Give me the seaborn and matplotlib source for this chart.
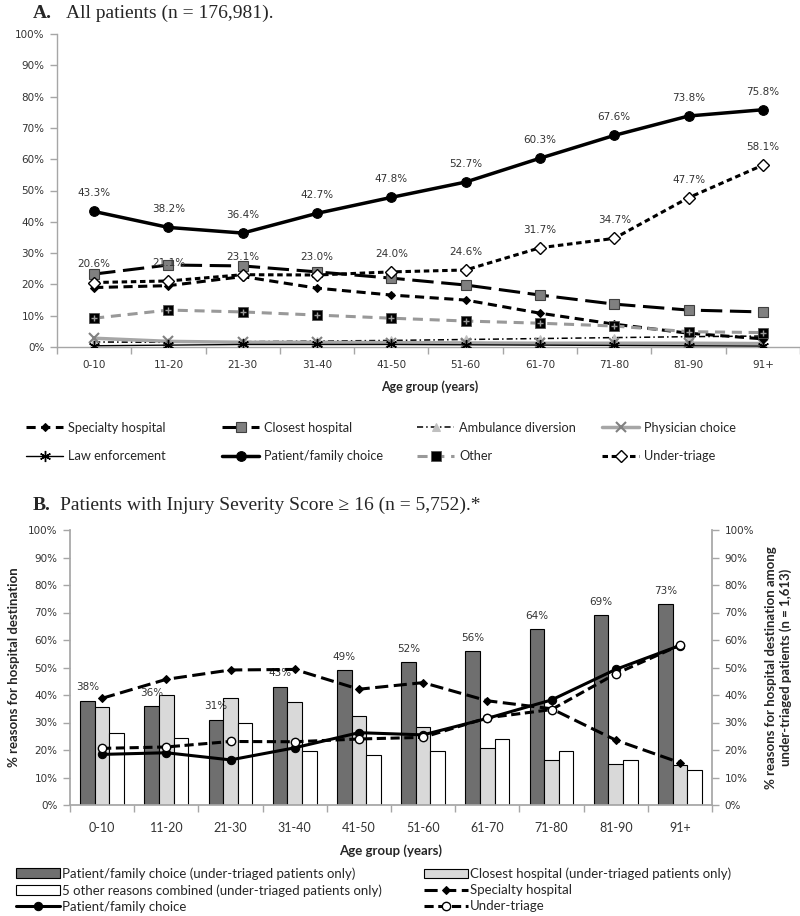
import numpy as np
import pandas as pd
import matplotlib
matplotlib.use("Agg")
import matplotlib.pyplot as plt
import seaborn as sns
from matplotlib.patches import Rectangle

ages = ['0-10', '11-20', '21-30', '31-40', '41-50', '51-60', '61-70', '71-80', '81-90', '91+']

# Panel A: all patients (%)
a_specialty = [19.0, 19.6, 22.5, 18.8, 16.6, 15.0, 10.8, 7.3, 4.4, 2.6]
a_closest = [23.3, 26.2, 25.9, 24.0, 22.0, 19.8, 16.6, 13.7, 11.8, 11.2]
a_ambulance = [1.6, 1.5, 1.7, 1.9, 2.1, 2.4, 2.7, 3.0, 3.3, 3.5]
a_physician = [2.8, 1.8, 1.5, 1.5, 1.4, 1.3, 1.2, 1.2, 1.2, 1.1]
a_law = [0.4, 0.6, 0.8, 0.8, 0.8, 0.7, 0.6, 0.5, 0.4, 0.3]
a_patient = [43.3, 38.2, 36.4, 42.7, 47.8, 52.7, 60.3, 67.6, 73.8, 75.8]
a_other = [9.2, 11.8, 11.2, 10.2, 9.2, 8.3, 7.6, 6.7, 4.9, 4.6]
a_undertriage = [20.6, 21.1, 23.1, 23.0, 24.0, 24.6, 31.7, 34.7, 47.7, 58.1]

# Panel B: ISS >= 16, bars (under-triaged patients only)
b_bar_patient = [38, 36, 31, 43, 49, 52, 56, 64, 69, 73]
b_bar_closest = [35.7, 40.0, 38.9, 37.6, 32.4, 28.2, 20.6, 16.4, 14.8, 14.5]
b_bar_other5 = [26.1, 24.2, 29.9, 19.8, 18.1, 19.6, 23.9, 19.6, 16.4, 12.7]
# Panel B lines
b_specialty = [38.8, 45.7, 49.1, 49.3, 42.1, 44.5, 37.9, 35.0, 23.6, 15.4]
b_patient = [18.4, 19.0, 16.4, 20.8, 26.3, 25.5, 31.5, 38.2, 49.3, 58.0]
b_undertriage = [20.6, 21.1, 23.1, 23.0, 24.0, 24.6, 31.7, 34.7, 47.7, 58.1]

bar_names = ['Patient/family choice (under-triaged patients only)',
             'Closest hospital (under-triaged patients only)',
             '5 other reasons combined (under-triaged patients only)']

sns.set_theme(style="white")
plt.rcParams['font.family'] = ['Lato', 'DejaVu Sans']

W, H = 800, 916
fig = plt.figure(figsize=(W / 100, H / 100), dpi=100)


def box(l, t, r, b):
    return [l / W, 1 - b / H, (r - l) / W, (b - t) / H]


SPINE = '#a6a6a6'
TXT = '#333333'
SERIF = ['Liberation Serif', 'DejaVu Serif']
xpos = np.arange(len(ages))


def style_cat_x(ax, size, family, pad):
    ax.set_xticks(xpos)
    ax.set_xticklabels(ages, fontsize=size, color=TXT, family=family)
    ax.set_xticks(np.arange(-0.5, len(ages)), minor=True)
    ax.tick_params(axis='x', which='major', bottom=True, length=0, pad=pad)
    ax.tick_params(axis='x', which='minor', bottom=True, length=5, color=SPINE, width=1)


# ---------------- Panel A ----------------
axA = fig.add_axes(box(57, 34, 800, 347))

specsA = [
    ('Specialty hospital', a_specialty,
     dict(color='black', lw=2.2, linestyle=(0, (3, 1.8)), marker='D', ms=4.5, mfc='black', mec='black', zorder=4)),
    ('Closest hospital', a_closest,
     dict(color='black', lw=2.2, linestyle=(0, (7, 2.5)), marker='s', ms=6.5, mfc='#808080', mec='#404040', mew=0.8, zorder=4)),
    ('Ambulance diversion', a_ambulance,
     dict(color='black', lw=1.1, linestyle=(0, (4, 2, 1, 2)), marker='^', ms=6, mfc='#c0c0c0', mec='#c0c0c0', zorder=3)),
    ('Physician choice', a_physician,
     dict(color='#a6a6a6', lw=2.5, linestyle='-', marker='x', ms=7, mec='#808080', mew=1.5, zorder=3)),
    ('Law enforcement', a_law,
     dict(color='black', lw=1.0, linestyle='-', marker=(6, 2, 0), ms=8, mec='black', mew=1.0, zorder=3)),
    ('Patient/family choice', a_patient,
     dict(color='black', lw=2.5, linestyle='-', marker='o', ms=7, mfc='black', mec='black', zorder=6)),
    ('Other', a_other,
     dict(color='#999999', lw=2.2, linestyle=(0, (3.3, 2.2)), marker='s', ms=6.5, mfc='black', mec='#555555', mew=0.6, zorder=4)),
    ('Under-triage', a_undertriage,
     dict(color='black', lw=2.2, linestyle=(0, (1.8, 1.2)), marker='D', ms=6, mfc='white', mec='black', mew=1.0, zorder=5)),
]
handlesA = {}
for name, vals, kw in specsA:
    sns.lineplot(x=xpos, y=vals, ax=axA, legend=False, **kw)
    handlesA[name] = axA.lines[-1]
# gray cross inside the "Other" markers
sns.scatterplot(x=xpos, y=a_other, ax=axA, marker='+', color='#9a9a9a', s=22, linewidth=1.0, zorder=5, legend=False)

for i, v in enumerate(a_patient):
    axA.annotate(f'{v:.1f}%', (i, v), xytext=(0, 13), textcoords='offset points',
                 ha='center', va='center', fontsize=7.5, color=TXT, family='DejaVu Sans', zorder=7)
for i, v in enumerate(a_undertriage):
    axA.annotate(f'{v:.1f}%', (i, v), xytext=(0, 13), textcoords='offset points',
                 ha='center', va='center', fontsize=7.5, color=TXT, family='DejaVu Sans', zorder=7)

axA.set_xlim(-0.5, 9.47)
axA.set_ylim(0, 100)
axA.set_yticks(np.arange(0, 101, 10))
axA.set_yticklabels([f'{t}%' for t in range(0, 101, 10)], fontsize=7.5, color=TXT, family='DejaVu Sans')
axA.tick_params(axis='y', left=True, length=5, color=SPINE, width=1, pad=4)
style_cat_x(axA, 7.5, 'DejaVu Sans', 9)
for s in ['top', 'right']:
    axA.spines[s].set_visible(False)
for s in ['left', 'bottom']:
    axA.spines[s].set_color(SPINE)
    axA.spines[s].set_linewidth(1.0)
axA.set_xlabel('')
axA.set_ylabel('')

fig.text(33 / W, 1 - 13 / H, 'A.', fontsize=14, fontweight='bold', family=SERIF, va='center')
fig.text(66 / W, 1 - 13 / H, 'All patients (n = 176,981).', fontsize=14, family=SERIF, va='center')
fig.text(430 / W, 1 - 387 / H, 'Age group (years)', fontsize=9, fontweight='bold', ha='center', va='center')

colsA = [['Specialty hospital', 'Law enforcement'],
         ['Closest hospital', 'Patient/family choice'],
         ['Ambulance diversion', 'Other'],
         ['Physician choice', 'Under-triage']]
colxA = [26, 222, 417, 602]
for cx, names in zip(colxA, colsA):
    fig.legend([handlesA[n] for n in names], names, loc='center left',
               bbox_to_anchor=(cx / W, 1 - 442 / H), frameon=False, fontsize=9.2,
               handlelength=2.9, handletextpad=0.4, labelspacing=1.3,
               borderpad=0, borderaxespad=0)

# ---------------- Panel B ----------------
axB = fig.add_axes(box(70, 530, 712, 805))
dfb = pd.DataFrame({
    'age': ages * 3,
    'series': [bar_names[0]] * 10 + [bar_names[1]] * 10 + [bar_names[2]] * 10,
    'value': b_bar_patient + b_bar_closest + b_bar_other5,
})
pal = {bar_names[0]: '#6f6f6f', bar_names[1]: '#d9d9d9', bar_names[2]: '#ffffff'}
sns.barplot(data=dfb, x='age', y='value', hue='series', hue_order=bar_names, palette=pal,
            width=0.68, edgecolor='black', linewidth=0.8, saturation=1, ax=axB, legend=False,
            errorbar=None)
axB.bar_label(axB.containers[0], labels=[f'{v}%' for v in b_bar_patient], padding=6,
              fontsize=7.5, color=TXT, family='DejaVu Sans')

axB.set_xlim(-0.5, 9.5)
axB.set_ylim(0, 100)
axB.set_yticks(np.arange(0, 101, 10))
axB.set_yticklabels([f'{t}%' for t in range(0, 101, 10)], fontsize=7.5, color=TXT, family='DejaVu Sans')
axB.tick_params(axis='y', left=True, length=5, color=SPINE, width=1, pad=4)
style_cat_x(axB, 9, 'Lato', 12)
for s in ['top', 'right']:
    axB.spines[s].set_visible(False)
for s in ['left', 'bottom']:
    axB.spines[s].set_color(SPINE)
axB.set_xlabel('')
axB.set_ylabel('% reasons for hospital destination', fontsize=9.5, fontweight='bold', labelpad=6)

axB2 = axB.twinx()
specsB = [
    ('Specialty hospital', b_specialty,
     dict(color='black', lw=2.2, linestyle=(0, (4.3, 1.8)), marker='D', ms=4.5, mfc='black', mec='black', zorder=4)),
    ('Patient/family choice', b_patient,
     dict(color='black', lw=2.2, linestyle='-', marker='o', ms=6, mfc='black', mec='black', zorder=5)),
    ('Under-triage', b_undertriage,
     dict(color='black', lw=2.2, linestyle=(0, (3, 1.5)), marker='o', ms=6, mfc='white', mec='black', mew=1.0, zorder=6)),
]
handlesB = {}
for name, vals, kw in specsB:
    sns.lineplot(x=xpos, y=vals, ax=axB2, legend=False, **kw)
    handlesB[name] = axB2.lines[-1]
axB2.set_xlim(-0.5, 9.5)
axB2.set_ylim(0, 100)
axB2.set_yticks(np.arange(0, 101, 10))
axB2.set_yticklabels([f'{t}%' for t in range(0, 101, 10)], fontsize=7.5, color=TXT, family='DejaVu Sans')
axB2.tick_params(axis='y', right=True, length=5, color=SPINE, width=1, pad=4)
for s in ['top', 'left', 'bottom']:
    axB2.spines[s].set_visible(False)
axB2.spines['right'].set_color(SPINE)
axB2.set_ylabel('% reasons for hospital destination among\nunder-triaged patients (n = 1,613)',
                fontsize=9.5, fontweight='bold', labelpad=8)
axB2.grid(False)
axB.grid(False)

fig.text(33 / W, 1 - 505 / H, 'B.', fontsize=14, fontweight='bold', family=SERIF, va='center')
fig.text(60 / W, 1 - 505 / H, 'Patients with Injury Severity Score \u2265 16 (n = 5,752).*', fontsize=14,
         family=SERIF, va='center')
fig.text(391 / W, 1 - 851 / H, 'Age group (years)', fontsize=9.5, fontweight='bold', ha='center', va='center')

bh = {n: Rectangle((0, 0), 1, 1, facecolor=pal[n], edgecolor='black', linewidth=0.8) for n in bar_names}
colsB_left = [(bh[bar_names[0]], bar_names[0]), (bh[bar_names[2]], bar_names[2]),
              (handlesB['Patient/family choice'], 'Patient/family choice')]
colsB_right = [(bh[bar_names[1]], bar_names[1]), (handlesB['Specialty hospital'], 'Specialty hospital'),
               (handlesB['Under-triage'], 'Under-triage')]
for cx, items in zip([16, 424], [colsB_left, colsB_right]):
    fig.legend([h for h, _ in items], [l for _, l in items], loc='center left',
               bbox_to_anchor=(cx / W, 1 - 890 / H), frameon=False, fontsize=9.5,
               handlelength=3.3, handleheight=0.75, handletextpad=0.15, labelspacing=0.32,
               borderpad=0, borderaxespad=0)

fig.savefig('out.png', dpi=100)
